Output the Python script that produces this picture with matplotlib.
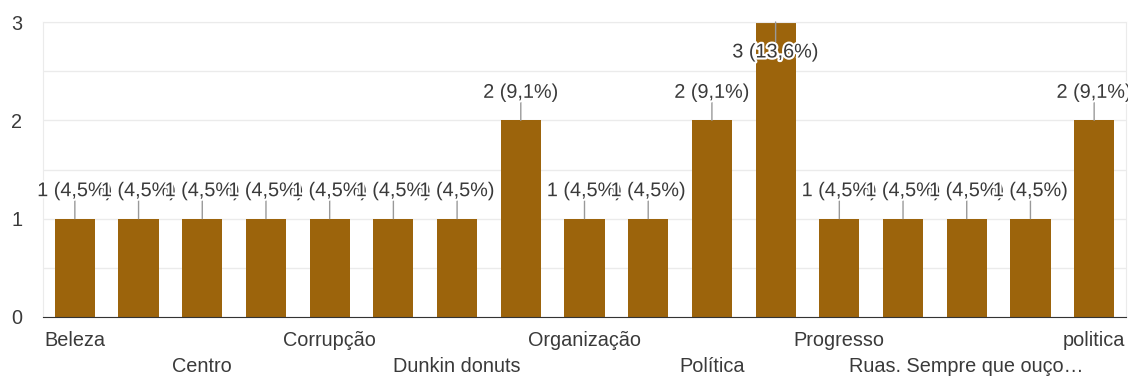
import matplotlib.pyplot as plt
import matplotlib.patheffects as pe
import matplotlib.transforms as mtransforms
import numpy as np

plt.rcParams['font.family'] = ['Liberation Sans', 'DejaVu Sans']

# dados (apenas rótulos visíveis no gráfico; os outros ficam em branco)
categorias = ['Beleza', '', 'Centro', '', 'Corrupção', '', 'Dunkin donuts', '',
              'Organização', '', 'Política', '', 'Progresso', '',
              'Ruas. Sempre que ouço…', '', 'politica']
contagens = [1, 1, 1, 1, 1, 1, 1, 2, 1, 1, 2, 3, 1, 1, 1, 1, 2]
rotulos = ['1 (4,5%)'] * 7 + ['2 (9,1%)', '1 (4,5%)', '1 (4,5%)', '2 (9,1%)',
           '3 (13,6%)'] + ['1 (4,5%)'] * 4 + ['2 (9,1%)']

cor_barra = '#9c640c'
cor_texto = '#3a3a3a'
tam = 14.3

fig = plt.figure(figsize=(11.28, 3.76), dpi=100)
ax = fig.add_axes([43 / 1128, 59 / 376, 1083 / 1128, 295 / 376])

x = np.arange(len(contagens))
ax.bar(x, contagens, width=0.63, color=cor_barra, zorder=2)

ax.set_xlim(-0.5, len(contagens) - 0.5)
ax.set_ylim(0, 3)
ax.set_yticks([0, 1, 2, 3])
ax.set_yticks([0.5, 1.5, 2.5], minor=True)
ax.tick_params(axis='y', length=0, labelsize=tam, labelcolor=cor_texto, pad=15)
ax.tick_params(axis='y', which='minor', length=0)
ax.set_xticks([])
ax.grid(axis='y', which='both', color='#ebebeb', linewidth=1, zorder=0)

for lado in ['left', 'right', 'top']:
    ax.spines[lado].set_color('#ebebeb')
ax.spines['bottom'].set_color('#333333')
ax.spines['bottom'].set_zorder(3)

# rótulos das categorias em duas linhas
trans = mtransforms.blended_transform_factory(ax.transData, ax.transAxes)
for i, nome in enumerate(categorias):
    if not nome:
        continue
    linha = (i // 2) % 2
    off = -24 if linha == 0 else -50
    ax.annotate(nome, xy=(i, 0), xycoords=trans, xytext=(0, off / 1.389),
                textcoords='offset points', ha='center', va='center',
                fontsize=tam, color=cor_texto, annotation_clip=False)

# rótulos de valor com linha guia
halo = [pe.withStroke(linewidth=3, foreground='white')]
ymax = 3
for i, (v, r) in enumerate(zip(contagens, rotulos)):
    if v >= ymax:
        ax.annotate('', xy=(i, v), xytext=(0, -20 / 1.389), textcoords='offset points',
                    arrowprops=dict(arrowstyle='-', color='#999999', lw=1,
                                    shrinkA=0, shrinkB=0), zorder=4)
        ax.annotate(r, xy=(i, v), xytext=(0, -30 / 1.389), textcoords='offset points',
                    ha='center', va='center', fontsize=tam, color=cor_texto,
                    path_effects=halo, zorder=5)
    else:
        ax.annotate('', xy=(i, v), xytext=(0, 18 / 1.389), textcoords='offset points',
                    arrowprops=dict(arrowstyle='-', color='#999999', lw=1,
                                    shrinkA=0, shrinkB=0), zorder=4)
        ax.annotate(r, xy=(i, v), xytext=(0, 28 / 1.389), textcoords='offset points',
                    ha='center', va='center', fontsize=tam, color=cor_texto,
                    path_effects=halo, zorder=5, annotation_clip=False)

fig.savefig('out.png', dpi=100)
